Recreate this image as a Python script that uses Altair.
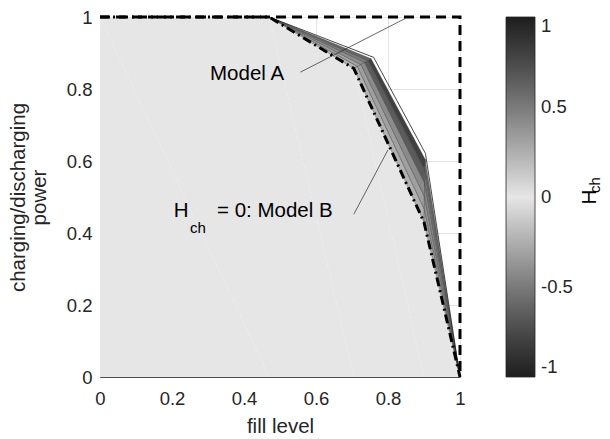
import altair as alt
import pandas as pd

# ---- data ----
# Model B boundary (H_ch = 0)
fill_B = [0.0, 0.47, 0.705, 0.900, 1.0]
power_B = [1.0, 1.0, 0.857, 0.430, 0.0]

# Model A outer boundary (thin line)
fill_A = [0.47, 0.760, 0.904, 1.0]
power_A = [1.0, 0.888, 0.621, 0.0]

# ideal (dashed) boundary
fill_box = [0.0, 1.0, 1.0]
power_box = [1.0, 1.0, 0.0]

# surface level curves (inner -> outer)
surf_fill = [
    [0.47, 0.705, 0.900, 1.0],
    [0.47, 0.715, 0.901, 1.0],
    [0.47, 0.725, 0.901, 1.0],
    [0.47, 0.735, 0.902, 1.0],
    [0.47, 0.745, 0.902, 1.0],
    [0.47, 0.753, 0.903, 1.0],
]
surf_power = [
    [1.0, 0.857, 0.430, 0.0],
    [1.0, 0.863, 0.466, 0.0],
    [1.0, 0.868, 0.502, 0.0],
    [1.0, 0.874, 0.538, 0.0],
    [1.0, 0.879, 0.574, 0.0],
    [1.0, 0.884, 0.605, 0.0],
]
# H_ch value of each strip, per segment
strip_H = [
    [0.22, 0.24, 0.28],
    [0.31, 0.32, 0.36],
    [0.40, 0.42, 0.44],
    [0.50, 0.66, 0.52],
    [0.60, 0.80, 0.60],
]

# annotation pointer lines
ptrA_x = [0.557, 0.848]
ptrA_y = [0.847, 0.996]
ptrB_x = [0.705, 0.800]
ptrB_y = [0.452, 0.631]

x_ticks = [0, 0.2, 0.4, 0.6, 0.8, 1]
y_ticks = [0, 0.2, 0.4, 0.6, 0.8, 1]
cbar_ticks = [-1, -0.5, 0, 0.5, 1]

FONT = "Liberation Sans"
TXT = "#262626"

# ---- build tables ----
polys = []
pid = 0
for k in range(len(strip_H)):
    for s in range(3):
        verts = [
            (surf_fill[k][s], surf_power[k][s]),
            (surf_fill[k][s + 1], surf_power[k][s + 1]),
            (surf_fill[k + 1][s + 1], surf_power[k + 1][s + 1]),
            (surf_fill[k + 1][s], surf_power[k + 1][s]),
            (surf_fill[k][s], surf_power[k][s]),
        ]
        for o, (vx, vy) in enumerate(verts):
            polys.append({"pid": pid, "o": o, "x": vx, "y": vy, "H": strip_H[k][s]})
        pid += 1
df_poly = pd.DataFrame(polys)

df_B = pd.DataFrame({"x": fill_B, "y": power_B, "o": range(len(fill_B))})
df_A = pd.DataFrame({"x": fill_A, "y": power_A, "o": range(len(fill_A))})
df_box = pd.DataFrame({"x": fill_box, "y": power_box, "o": range(len(fill_box))})
df_pA = pd.DataFrame({"x": ptrA_x, "y": ptrA_y, "o": [0, 1]})
df_pB = pd.DataFrame({"x": ptrB_x, "y": ptrB_y, "o": [0, 1]})

xs = alt.Scale(domain=[0, 1], nice=False, zero=False)
ys = alt.Scale(domain=[0, 1], nice=False, zero=False)
xaxis = alt.Axis(values=x_ticks, format="~g", title="fill level", grid=True, ticks=False,
                 labelPadding=12, titlePadding=9, labelFlush=False)
yaxis = alt.Axis(values=y_ticks, format="~g", title=["charging/discharging", "power"], grid=True,
                 ticks=False, labelPadding=8, titlePadding=17, labelFlush=False)


def X():
    return alt.X("x:Q", scale=xs, axis=xaxis)


def Y():
    return alt.Y("y:Q", scale=ys, axis=yaxis)


area = alt.Chart(df_B).mark_area(color="#e6e6e6", opacity=1).encode(x=X(), y=Y(), order="o:Q")

surf = alt.Chart(df_poly).mark_line(stroke="#3a3a3a", strokeWidth=0.4).encode(
    x=X(), y=Y(), order="o:Q", detail="pid:N",
    fill=alt.Fill("H:Q", scale=alt.Scale(domain=[-1, 0, 1], range=["#1e1e1e", "#e6e6e6", "#1e1e1e"]),
                  legend=alt.Legend(title=None, orient="right", direction="vertical", offset=45,
                                    gradientLength=360, gradientThickness=29, values=cbar_ticks,
                                    labelFontSize=18.5, labelFont=FONT, labelColor=TXT,
                                    labelOffset=6, labelBaseline="middle",
                                    labelExpr="toString(datum.value)",
                                    gradientStrokeColor=TXT, gradientStrokeWidth=0.8, padding=0)),
)

lineA = alt.Chart(df_A).mark_line(color="#1a1a1a", strokeWidth=0.8).encode(x=X(), y=Y(), order="o:Q")
lineB = alt.Chart(df_B).mark_line(color="black", strokeWidth=3, strokeDash=[9, 4, 2, 4]).encode(
    x=X(), y=Y(), order="o:Q")
box = alt.Chart(df_box).mark_line(color="black", strokeWidth=3, strokeDash=[10, 6], strokeCap="butt").encode(
    x=X(), y=Y(), order="o:Q")
pA = alt.Chart(df_pA).mark_line(color="#262626", strokeWidth=0.7).encode(x=X(), y=Y(), order="o:Q")
pB = alt.Chart(df_pB).mark_line(color="#262626", strokeWidth=0.7).encode(x=X(), y=Y(), order="o:Q")


def label(txt, x, y, size, align="left", baseline="alphabetic", angle=0):
    d = pd.DataFrame({"x": [x], "y": [y], "t": [txt]})
    return alt.Chart(d).mark_text(font=FONT, fontSize=size, color="black", align=align,
                                  baseline=baseline, angle=angle).encode(x=X(), y=Y(), text="t:N")


texts = [
    label("Model A", 0.3056, 0.825, 20.5),
    label("H", 0.2047, 0.445, 20.5),
    label("ch", 0.250, 0.400, 15),
    label("= 0: Model B", 0.325, 0.445, 20.5),
    label("H", 1.3611, 0.500, 20.5, align="center", baseline="middle", angle=270),
    label("ch", 1.375, 0.533, 15, align="center", baseline="middle", angle=270),
]

chart = alt.layer(area, surf, lineA, lineB, box, pA, pB, *texts).properties(
    width=360, height=360, padding={"left": 8, "top": 8, "right": 5, "bottom": 5}
).configure_view(stroke=None).configure_axis(
    labelFont=FONT, titleFont=FONT, labelFontSize=18.5, titleFontSize=20.5, labelColor=TXT,
    titleColor=TXT, titleFontWeight="normal", domainColor="#4d4d4d", domainWidth=1,
    gridColor="#e2e2e2", gridWidth=1, titleLineHeight=21
)

chart.save("out.html", embed_options={"renderer": "svg", "actions": False})
